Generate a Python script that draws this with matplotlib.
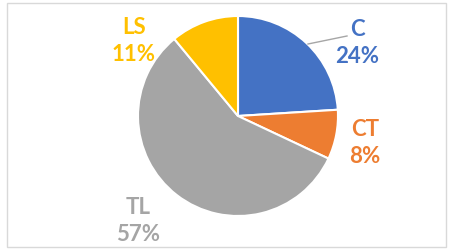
import matplotlib
matplotlib.use("Agg")
import matplotlib.pyplot as plt
from matplotlib.patches import Rectangle

categories = ["C", "CT", "TL", "LS"]
values = [24, 8, 57, 11]
colors = ["#4472C4", "#ED7D31", "#A5A5A5", "#FFC000"]
label_pos = [(1.19, 0.74), (1.27, -0.26), (-1.0, -1.04), (-1.04, 0.76)]

W, H = 449, 253
fig = plt.figure(figsize=(W / 100, H / 100), dpi=100)
fig.patch.set_facecolor("white")

# light frame
fig.add_artist(Rectangle((7 / W, 5 / H), (446 - 7) / W, (249 - 5) / H,
                         transform=fig.transFigure, fill=False,
                         edgecolor="#d9d9d9", linewidth=1.0))

cx, cy, r = 238, 117, 100
ax = fig.add_axes([(cx - r) / W, (H - cy - r) / H, 2 * r / W, 2 * r / H])
ax.pie(values, colors=colors, startangle=90, counterclock=False,
       wedgeprops=dict(edgecolor="white", linewidth=1.5), radius=1)
ax.set_xlim(-1, 1)
ax.set_ylim(-1, 1)
ax.set_aspect("equal")
ax.axis("off")

for cat, val, col, (x, y) in zip(categories, values, colors, label_pos):
    ax.text(x, y, f"{cat}\n{val}%", color=col, ha="center", va="center",
            fontsize=16, fontweight="bold", family="Lato", linespacing=1.3,
            clip_on=False)

# leader line for C
ax.plot([0.70, 1.09], [0.72, 0.80], color="#a6a6a6", linewidth=1, clip_on=False)

fig.savefig("out.png", dpi=100)
